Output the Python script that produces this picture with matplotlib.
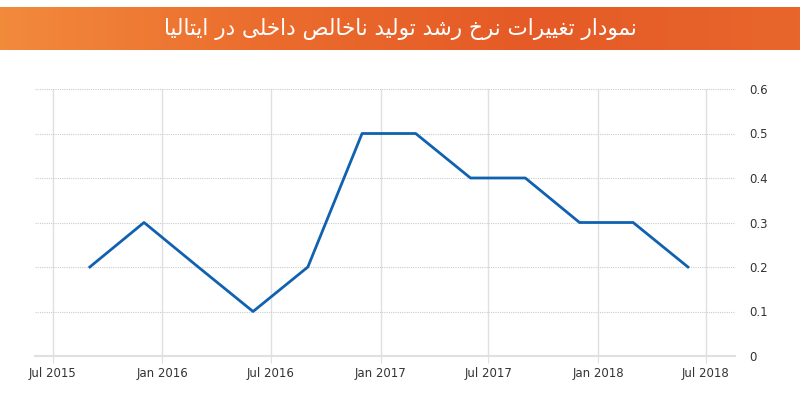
import matplotlib
matplotlib.use("Agg")
import matplotlib.pyplot as plt
from matplotlib.colors import LinearSegmentedColormap
import numpy as np
import datetime as dt

# quarterly GDP growth, Italy (%)
dates = ["2015-09-01", "2015-12-01", "2016-03-01", "2016-06-01",
         "2016-09-01", "2016-12-01", "2017-03-01", "2017-06-01",
         "2017-09-01", "2017-12-01", "2018-03-01", "2018-06-01"]
growth = [0.2, 0.3, 0.2, 0.1, 0.2, 0.5, 0.5, 0.4, 0.4, 0.3, 0.3, 0.2]

x_ticks = ["2015-07-01", "2016-01-01", "2016-07-01", "2017-01-01",
           "2017-07-01", "2018-01-01", "2018-07-01"]
x_tick_labels = ["Jul 2015", "Jan 2016", "Jul 2016", "Jan 2017",
                 "Jul 2017", "Jan 2018", "Jul 2018"]
y_ticks = [0, 0.1, 0.2, 0.3, 0.4, 0.5, 0.6]
y_tick_labels = ["0", "0.1", "0.2", "0.3", "0.4", "0.5", "0.6"]

title = "نمودار تغییرات نرخ رشد تولید ناخالص داخلی در ایتالیا"

# minimal persian shaping (matplotlib has no bidi / joining)
forms = {
    "ا": ("\uFE8D", "\uFE8E"),
    "ت": ("\uFE95", "\uFE96", "\uFE97", "\uFE98"),
    "خ": ("\uFEA5", "\uFEA6", "\uFEA7", "\uFEA8"),
    "د": ("\uFEA9", "\uFEAA"),
    "ر": ("\uFEAD", "\uFEAE"),
    "ش": ("\uFEB5", "\uFEB6", "\uFEB7", "\uFEB8"),
    "ص": ("\uFEB9", "\uFEBA", "\uFEBB", "\uFEBC"),
    "غ": ("\uFECD", "\uFECE", "\uFECF", "\uFED0"),
    "ل": ("\uFEDD", "\uFEDE", "\uFEDF", "\uFEE0"),
    "م": ("\uFEE1", "\uFEE2", "\uFEE3", "\uFEE4"),
    "ن": ("\uFEE5", "\uFEE6", "\uFEE7", "\uFEE8"),
    "و": ("\uFEED", "\uFEEE"),
    "ی": ("\uFBFC", "\uFBFD", "\uFBFE", "\uFBFF"),
}


def shape(s):
    out = []
    for i, c in enumerate(s):
        if c not in forms:
            out.append(c)
            continue
        prev = s[i - 1] if i > 0 else " "
        nxt = s[i + 1] if i + 1 < len(s) else " "
        jp = prev in forms and len(forms[prev]) == 4
        jn = len(forms[c]) == 4 and nxt in forms
        f = forms[c]
        if jp and jn:
            out.append(f[3])
        elif jp:
            out.append(f[1])
        elif jn:
            out.append(f[2])
        else:
            out.append(f[0])
    return "".join(out)[::-1]


fig = plt.figure(figsize=(8, 4.17), dpi=100)

# orange banner
bax = fig.add_axes([0, 1 - 50 / 417, 1, 43 / 417])
grad = np.linspace(0, 1, 256).reshape(1, -1)
cmap = LinearSegmentedColormap.from_list("org", ["#f28a3c", "#eb6c2d", "#e55a26", "#e8662c"])
bax.imshow(grad, aspect="auto", cmap=cmap, extent=[0, 1, 0, 1])
bax.set_xlim(0, 1)
bax.set_ylim(0, 1)
bax.axis("off")
bax.text(0.5, 0.5, shape(title), color="white", fontsize=15.5,
         family="DejaVu Sans", ha="center", va="center")

ax = fig.add_axes([35 / 800, 1 - 356 / 417, 700 / 800, 267 / 417])
d = [dt.datetime.strptime(v, "%Y-%m-%d") for v in dates]
ax.plot(d, growth, color="#1062b0", linewidth=2)

ax.set_xlim(dt.datetime(2015, 6, 1), dt.datetime(2018, 8, 19))
ax.set_ylim(0, 0.6)
xt = [dt.datetime.strptime(v, "%Y-%m-%d") for v in x_ticks]
ax.set_xticks(xt)
ax.set_xticklabels(x_tick_labels)
ax.set_yticks(y_ticks)
ax.set_yticklabels(y_tick_labels)
ax.yaxis.tick_right()

ax.grid(axis="y", color="#cccccc", linestyle=(0, (1, 1)), linewidth=0.8)
ax.grid(axis="x", color="#e0e0e0", linestyle="-", linewidth=1)
for s in ["top", "left", "right"]:
    ax.spines[s].set_visible(False)
ax.spines["bottom"].set_color("#e0e0e0")
ax.spines["bottom"].set_linewidth(1.5)
ax.tick_params(axis="x", length=5, color="#e0e0e0", labelsize=8.5, labelcolor="#333333", pad=3)
ax.tick_params(axis="y", length=0, labelsize=8.5, labelcolor="#333333", pad=10)

fig.savefig("out.png", dpi=100, facecolor="white")
